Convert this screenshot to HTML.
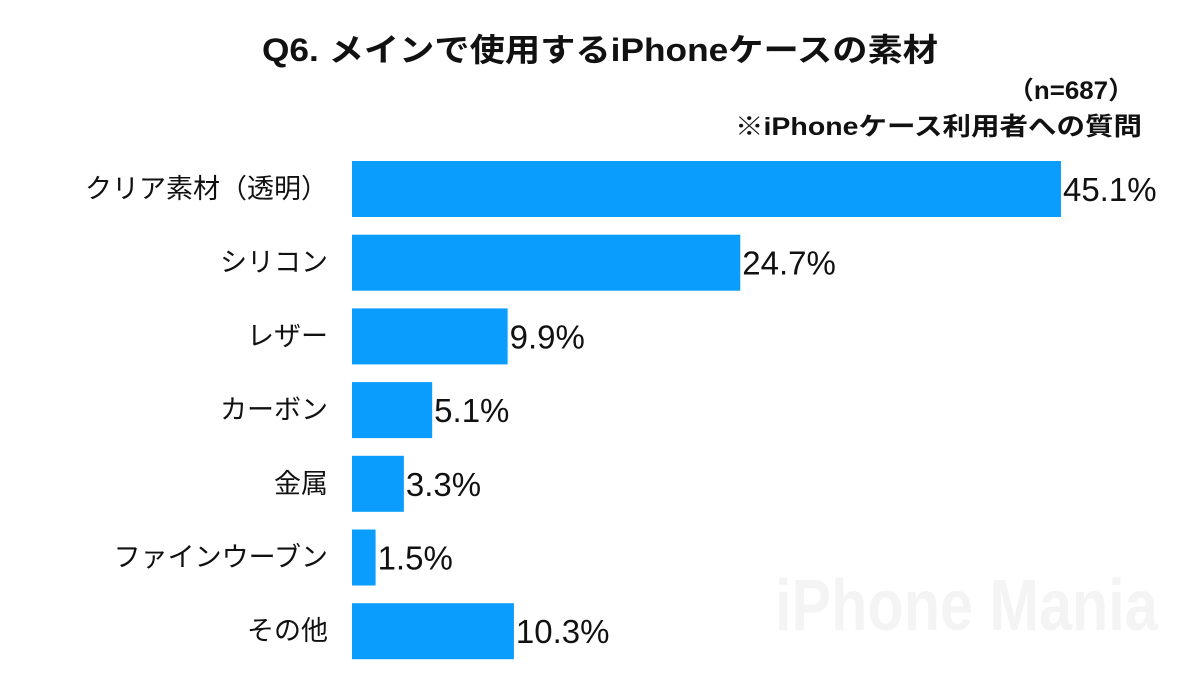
<!DOCTYPE html>
<html><head><meta charset="utf-8">
<style>
html,body{margin:0;padding:0;background:#fff;}
svg{display:block;}
text{font-family:"Liberation Sans","Noto Sans CJK JP",sans-serif;}
</style></head>
<body>
<svg id="chart" width="1200" height="675" viewBox="0 0 1200 675">
<text x="0" y="630" font-size="72" font-weight="bold" fill="#f4f4f4" transform="translate(775,0) scale(0.825,1)" style="font-family:'Liberation Sans Narrow','Liberation Sans',sans-serif">iPhone Mania</text>
<text x="262" y="61" textLength="676" lengthAdjust="spacingAndGlyphs" font-size="32" font-weight="bold" fill="#111">Q6. メインで使用するiPhoneケースの素材</text>
<text x="1008" y="99" textLength="126" lengthAdjust="spacingAndGlyphs" font-size="25" font-weight="bold" fill="#111">（n=687）</text>
<text x="735" y="135" textLength="407" lengthAdjust="spacingAndGlyphs" font-size="25" font-weight="bold" fill="#111">※iPhoneケース利用者への質問</text>
<g id="bars"></g>
</svg>
<script>
const categories = ["クリア素材（透明）","シリコン","レザー","カーボン","金属","ファインウーブン","その他"];
const values = [45.1,24.7,9.9,5.1,3.3,1.5,10.3];
const valueLabels = ["45.1%","24.7%","9.9%","5.1%","3.3%","1.5%","10.3%"];
const x0 = 352, pxPer = 15.72;
function xScale(v){return x0 + v*pxPer;}
function yCenter(i){return 189 + i*73.7;}
const g = document.getElementById('bars');
const ns = "http://www.w3.org/2000/svg";
categories.forEach((c,i)=>{
  const cy = yCenter(i);
  const r = document.createElementNS(ns,'rect');
  
  
  r.setAttribute('x',x0); r.setAttribute('y',cy-28);
  r.setAttribute('width',xScale(values[i])-x0); r.setAttribute('height',56);
  r.setAttribute('fill','#0a9dfe');
  g.appendChild(r);
  const t = document.createElementNS(ns,'text');
  
  
  t.setAttribute('x',328); t.setAttribute('y',cy+9);
  t.setAttribute('text-anchor','end'); t.setAttribute('font-size','27'); t.setAttribute('fill','#111');
  t.textContent = c; g.appendChild(t);
  const v = document.createElementNS(ns,'text');
  
  
  v.setAttribute('x',xScale(values[i])+2); v.setAttribute('y',cy+12);
  v.setAttribute('font-size','33'); v.setAttribute('fill','#111');
  v.textContent = valueLabels[i]; g.appendChild(v);
});
</script>
</body></html>
